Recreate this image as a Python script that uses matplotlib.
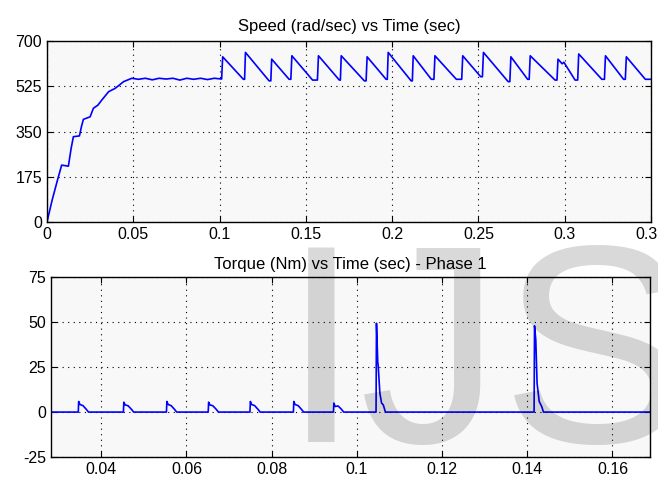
import matplotlib
matplotlib.use('Agg')
import matplotlib.pyplot as plt
from matplotlib.ticker import FuncFormatter

plt.rcParams['font.family'] = ['Liberation Sans', 'DejaVu Sans']
plt.rcParams['font.size'] = 11.5

# rotor speed (rad/sec) against time (sec)
t_speed = [0, 0.0030, 0.0060, 0.0085, 0.0124, 0.0140, 0.0153, 0.0188, 0.0200, 0.0211,
           0.0250, 0.0269, 0.0295, 0.0318, 0.0340, 0.0357, 0.0395, 0.0420, 0.0444, 0.0492,
           0.053, 0.057, 0.061, 0.065, 0.069, 0.073, 0.077, 0.081, 0.085, 0.089, 0.093,
           0.097, 0.1012,
           0.1018, 0.1138, 0.1145, 0.1150, 0.1287, 0.1297, 0.1302, 0.1403, 0.1413, 0.1419,
           0.1539, 0.1567, 0.1573, 0.1694, 0.1700, 0.1705, 0.1839, 0.1849, 0.1855, 0.1965,
           0.1972, 0.1977, 0.2110, 0.2117, 0.2122, 0.2227, 0.2242, 0.2248, 0.2372, 0.2403,
           0.2409, 0.2513, 0.2523, 0.2529, 0.2672, 0.2682, 0.2688, 0.2785, 0.2794, 0.2800,
           0.2944, 0.2955, 0.2961, 0.2985, 0.2995, 0.3060, 0.3075, 0.3081, 0.3215, 0.3230,
           0.3236, 0.3341, 0.3351, 0.3357, 0.3467, 0.3500]
speed = [0, 85, 160, 220, 216, 285, 330, 333, 370, 397,
         407, 440, 452, 472, 490, 504, 517, 530, 543, 556,
         552, 556, 550, 556, 553, 556, 549, 556, 552, 556, 551,
         556, 553,
         639, 552, 552, 656, 546, 546, 630, 552, 552, 643,
         549, 549, 643, 549, 549, 643, 546, 546, 639, 552,
         552, 656, 546, 546, 643, 552, 552, 643, 552, 552,
         643, 562, 562, 656, 543, 543, 639, 552, 552, 643,
         549, 549, 630, 612, 618, 549, 549, 650, 552, 552,
         643, 552, 552, 639, 552, 552]

# phase 1 torque (Nm) against time (sec)
t_torque = [0.028,
            0.0346, 0.0347, 0.0350, 0.0357, 0.0365, 0.0370,
            0.0452, 0.0453, 0.0456, 0.0463, 0.0471, 0.0476,
            0.0553, 0.0554, 0.0557, 0.0564, 0.0572, 0.0577,
            0.0651, 0.0652, 0.0655, 0.0662, 0.0670, 0.0675,
            0.0749, 0.0750, 0.0753, 0.0760, 0.0768, 0.0773,
            0.0851, 0.0852, 0.0855, 0.0862, 0.0870, 0.0875,
            0.0945, 0.0946, 0.0949, 0.0956, 0.0964, 0.0969,
            0.1045, 0.1046, 0.1049, 0.1050, 0.1054, 0.1058, 0.1062, 0.1067,
            0.1416, 0.1417, 0.1420, 0.1423, 0.1428, 0.1434, 0.1438,
            0.170]
torque = [0,
          0, 5.9, 4.2, 3.6, 1.5, 0,
          0, 5.5, 4.0, 3.5, 1.5, 0,
          0, 5.9, 4.2, 3.6, 1.5, 0,
          0, 5.5, 4.0, 3.5, 1.5, 0,
          0, 5.9, 4.2, 3.6, 1.5, 0,
          0, 5.9, 4.2, 3.6, 1.5, 0,
          0, 5.0, 3.1, 3.4, 1.5, 0,
          0, 49.4, 28, 26, 10.5, 5, 4, 0,
          0, 48, 40, 16, 5.9, 3, 0,
          0]

speed_xticks = [0, 0.05, 0.1, 0.15, 0.2, 0.25, 0.3, 0.35]
speed_yticks = [0, 175, 350, 525, 700]
torque_xticks = [0.04, 0.06, 0.08, 0.1, 0.12, 0.14, 0.16]
torque_yticks = [-25, 0, 25, 50, 75]

fig = plt.figure(figsize=(6.58, 4.8), dpi=100)
ax1 = fig.add_axes([0.0714, 0.5375, 0.918, 0.377])
ax2 = fig.add_axes([0.0775, 0.0479, 0.9103, 0.3744])

fmt = FuncFormatter(lambda v, pos: '%g' % v)


def style(ax):
    ax.set_facecolor('#f8f8f8')
    ax.grid(True, color='black', linestyle=(0, (1, 4)), linewidth=0.8)
    ax.tick_params(direction='in', length=4, top=True, right=True, pad=3.5,
                   colors='black')
    for s in ax.spines.values():
        s.set_linewidth(1.0)
    ax.xaxis.set_major_formatter(fmt)
    ax.yaxis.set_major_formatter(fmt)


ax1.plot(t_speed, speed, color='#0000ff', linewidth=1.2)
ax1.set_xlim(0, 0.35)
ax1.set_ylim(0, 700)
ax1.set_xticks(speed_xticks)
ax1.set_yticks(speed_yticks)
style(ax1)
ax1.set_title('Speed (rad/sec) vs Time (sec)', fontsize=12, pad=7)

ax2.plot(t_torque, torque, color='#0000ff', linewidth=1.2)
ax2.set_xlim(0.0282, 0.1688)
ax2.set_ylim(-25, 75)
ax2.set_xticks(torque_xticks)
ax2.set_yticks(torque_yticks)
style(ax2)
ax2.set_title('Torque (Nm) vs Time (sec) - Phase 1', fontsize=12, pad=6)

# faint publisher mark across the lower panel
fig.text(282 / 658, 1 - 442 / 480, 'IJS', fontsize=204, color='black', alpha=0.15,
         ha='left', va='baseline')

fig.savefig('out.png', dpi=100)
